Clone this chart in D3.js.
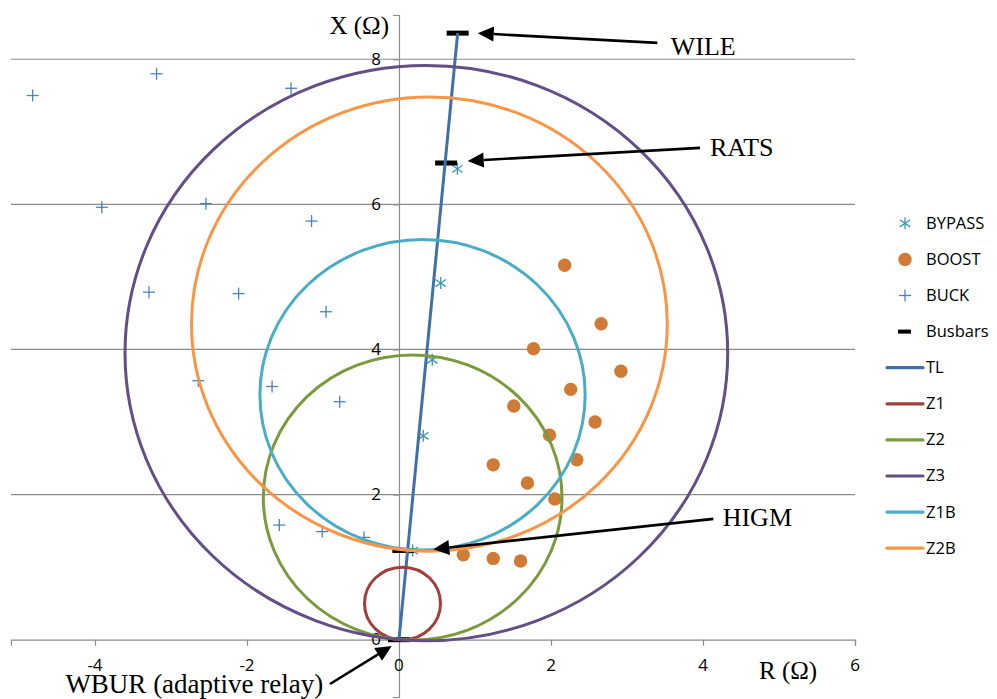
<!DOCTYPE html>
<html><head><meta charset="utf-8">
<script src="https://cdn.jsdelivr.net/npm/d3@7"></script>
<style>
html,body{margin:0;padding:0;background:#fff;}
svg{display:block;}
</style>
</head><body>
<svg id="chart" width="997" height="699"></svg>
<script>
// ---- data ----
const bypassR = [0.768, 0.549, 0.438, 0.32, 0.18];
const bypassX = [6.49, 4.916, 3.858, 2.81, 1.228];

const boostR = [2.18, 2.66, 1.77, 2.92, 2.26, 1.51, 2.58, 1.98, 2.34, 1.24, 1.69, 2.05, 0.846, 1.24, 1.60];
const boostX = [5.16, 4.355, 4.01, 3.70, 3.45, 3.22, 3.00, 2.82, 2.48, 2.41, 2.16, 1.94, 1.17, 1.12, 1.085];

const buckR = [-4.82, -3.19, -1.42, -3.91, -2.54, -1.15, -3.29, -2.11, -0.96, -2.64, -1.67, -0.78, -1.575, -1.01, -0.46];
const buckX = [7.50, 7.80, 7.60, 5.96, 6.01, 5.77, 4.79, 4.77, 4.52, 3.57, 3.49, 3.28, 1.58, 1.49, 1.41];

const busNames = ["WBUR", "HIGM", "RATS", "WILE"];
const busR = [0, 0.057, 0.62, 0.772];
const busX = [0, 1.23, 6.57, 8.36];

const tlR = [0, 0.772];
const tlX = [0, 8.36];

// mho zone circles: name, centre R, centre X, radius
const zoneNames = ["Z1", "Z2", "Z3", "Z1B", "Z2B"];
const zoneCR = [0.046, 0.18, 0.36, 0.31, 0.40];
const zoneCX = [0.5, 1.96, 3.95, 3.375, 4.35];
const zoneRad = [0.5, 1.965, 3.965, 2.14, 3.13];

const xTicks = [-4, -2, 0, 2, 4, 6];
const yTicks = [0, 2, 4, 6, 8];

// annotations (data coordinates): text position, arrow start, arrow tip
const annLabels = ["WILE", "RATS", "HIGM", "WBUR (adaptive relay)"];
const annTextPos = [[3.575, 8.065], [4.092, 6.672], [4.259, 1.572], [-0.996, -0.735]];
const annFrom = [[3.399, 8.226], [3.961, 6.778], [4.136, 1.665], [-0.908, -0.611]];
const annTo = [[1.036, 8.359], [0.904, 6.599], [0.451, 1.247], [-0.096, -0.087]];

const legendNames = ["BYPASS", "BOOST", "BUCK", "Busbars", "TL", "Z1", "Z2", "Z3", "Z1B", "Z2B"];

// ---- styles ----
const colors = {
  BYPASS: "#3f97ae", BOOST: "#cf7b35", BUCK: "#4f81bd", Busbars: "#000",
  TL: "#4070a8", Z1: "#a13f3d", Z2: "#7b9a3d", Z3: "#644e86", Z1B: "#4bacc6", Z2B: "#f79646"
};

const svg = d3.select("#chart");
const x = d3.scaleLinear().domain([-5.105, 6]).range([11, 855]);
const y = d3.scaleLinear().domain([-0.79, 8.61]).range([697, 15]);

const sansFont = "'Open Sans', 'Liberation Sans', sans-serif";
const serifFont = "'Liberation Serif', 'Times New Roman', serif";

// gridlines
svg.append("g").selectAll("line").data(yTicks.filter(d => d !== 0)).join("line")
  .attr("x1", x.range()[0]).attr("x2", x.range()[1])
  .attr("y1", d => y(d)).attr("y2", d => y(d))
  .attr("stroke", "#8c8c8c").attr("stroke-width", 1.2);

// x axis at y=0
const xAxis = d3.axisBottom(x).tickValues(xTicks.filter(d => d !== 0)).tickSize(6).tickFormat("");
const gx = svg.append("g").attr("transform", `translate(0,${y(0)})`).call(xAxis);
gx.select(".domain").attr("stroke", "#8c8c8c").attr("stroke-width", 1.2);
gx.selectAll(".tick line").attr("stroke", "#8c8c8c").attr("stroke-width", 1.2);

// y axis at x=0
const yAxis = d3.axisLeft(y).tickValues(yTicks).tickSize(6).tickFormat("");
const gy = svg.append("g").attr("transform", `translate(${x(0)},0)`).call(yAxis);
gy.select(".domain").attr("stroke", "#8c8c8c").attr("stroke-width", 1.2);
gy.selectAll(".tick line").attr("stroke", "#8c8c8c").attr("stroke-width", 1.2);

// tick labels
svg.append("g").selectAll("text").data(xTicks).join("text")
  .attr("x", d => x(d)).attr("y", y(0) + 27)
  .attr("text-anchor", "middle").attr("dominant-baseline", "middle")
  .attr("font-family", sansFont).attr("font-size", 17).attr("fill", "#000")
  .text(d => d < 0 ? "-" + Math.abs(d) : d);
svg.append("g").selectAll("text").data(yTicks).join("text")
  .attr("x", x(0) - 18).attr("y", d => y(d) + 1)
  .attr("text-anchor", "end").attr("dominant-baseline", "middle")
  .attr("font-family", sansFont).attr("font-size", 17).attr("fill", "#000")
  .text(d => d);

// axis titles
svg.append("text").attr("x", x(0) - 10).attr("y", 34).attr("text-anchor", "end")
  .attr("font-family", serifFont).attr("font-size", 25).text("X (Ω)");
svg.append("text").attr("x", 759).attr("y", 679).attr("text-anchor", "start")
  .attr("font-family", serifFont).attr("font-size", 25).text("R (Ω)");

// ---- series (Excel order) ----
const plot = svg.append("g");

// asterisk marker
function star(g, cx, cy, s, col) {
  const p = g.append("g").attr("transform", `translate(${cx},${cy})`)
    .attr("stroke", col).attr("stroke-width", 1.3).attr("fill", "none");
  p.append("line").attr("x1", 0).attr("x2", 0).attr("y1", -s).attr("y2", s);
  p.append("line").attr("x1", -s * 0.87).attr("x2", s * 0.87).attr("y1", -s * 0.6).attr("y2", s * 0.6);
  p.append("line").attr("x1", -s * 0.87).attr("x2", s * 0.87).attr("y1", s * 0.6).attr("y2", -s * 0.6);
}
function plus(g, cx, cy, s, col) {
  const p = g.append("g").attr("transform", `translate(${cx},${cy})`)
    .attr("stroke", col).attr("stroke-width", 1.3);
  p.append("line").attr("x1", -s).attr("x2", s).attr("y1", 0).attr("y2", 0);
  p.append("line").attr("x1", 0).attr("x2", 0).attr("y1", -s).attr("y2", s);
}

// BYPASS
const gBy = plot.append("g");
bypassR.forEach((r, i) => star(gBy, x(r), y(bypassX[i]), 6, colors.BYPASS));

// BOOST
plot.append("g").selectAll("circle").data(boostR).join("circle")
  .attr("cx", d => x(d)).attr("cy", (d, i) => y(boostX[i])).attr("r", 6.7)
  .attr("fill", colors.BOOST);

// BUCK
const gBu = plot.append("g");
buckR.forEach((r, i) => plus(gBu, x(r), y(buckX[i]), 6, colors.BUCK));

// Busbars
plot.append("g").selectAll("rect").data(busR).join("rect")
  .attr("x", d => x(d) - 11).attr("y", (d, i) => y(busX[i]) - 2.5)
  .attr("width", 22).attr("height", 5).attr("fill", colors.Busbars);

// TL
plot.append("path").datum(tlR.map((r, i) => [r, tlX[i]]))
  .attr("d", d3.line().x(d => x(d[0])).y(d => y(d[1])))
  .attr("stroke", colors.TL).attr("stroke-width", 3).attr("fill", "none");

// Zones
plot.append("g").selectAll("ellipse").data(zoneNames).join("ellipse")
  .attr("cx", (d, i) => x(zoneCR[i])).attr("cy", (d, i) => y(zoneCX[i]))
  .attr("rx", (d, i) => x(zoneRad[i]) - x(0)).attr("ry", (d, i) => y(0) - y(zoneRad[i]))
  .attr("fill", "none").attr("stroke", d => colors[d]).attr("stroke-width", 3);

// ---- annotations ----
const ann = svg.append("g");
annLabels.forEach((lab, i) => {
  const x1 = x(annFrom[i][0]), y1 = y(annFrom[i][1]);
  const x2 = x(annTo[i][0]), y2 = y(annTo[i][1]);
  const ang = Math.atan2(y2 - y1, x2 - x1);
  const L = 16, W = 7.5;
  const bx = x2 - L * Math.cos(ang), by = y2 - L * Math.sin(ang);
  ann.append("line").attr("x1", x1).attr("y1", y1).attr("x2", bx).attr("y2", by)
    .attr("stroke", "#000").attr("stroke-width", 2.6);
  const px = -Math.sin(ang), py = Math.cos(ang);
  ann.append("path")
    .attr("d", `M${x2},${y2}L${bx + px * W},${by + py * W}L${bx - px * W},${by - py * W}Z`)
    .attr("fill", "#000");
  ann.append("text").attr("x", x(annTextPos[i][0])).attr("y", y(annTextPos[i][1]))
    .attr("text-anchor", i === 3 ? "end" : "start")
    .attr("font-family", serifFont).attr("font-size", i === 3 ? 27 : 26).attr("fill", "#000")
    .text(lab);
});

// ---- legend ----
const lg = svg.append("g");
legendNames.forEach((name, i) => {
  const cy = 223.3 + i * 36.1;
  const g = lg.append("g");
  if (name === "BYPASS") star(g, 905, cy, 6, colors.BYPASS);
  else if (name === "BOOST") g.append("circle").attr("cx", 905).attr("cy", cy).attr("r", 6.7).attr("fill", colors.BOOST);
  else if (name === "BUCK") plus(g, 905, cy, 6, colors.BUCK);
  else if (name === "Busbars") g.append("rect").attr("x", 898).attr("y", cy - 2).attr("width", 13).attr("height", 4).attr("fill", "#000");
  else g.append("line").attr("x1", 887).attr("x2", 923).attr("y1", cy).attr("y2", cy)
    .attr("stroke", colors[name]).attr("stroke-width", 3.2).attr("stroke-linecap", "round");
  g.append("text").attr("x", 926).attr("y", cy + 1).attr("dominant-baseline", "middle")
    .attr("font-family", sansFont).attr("font-size", 16.5).attr("fill", "#000").text(name);
});
</script>
</body></html>
